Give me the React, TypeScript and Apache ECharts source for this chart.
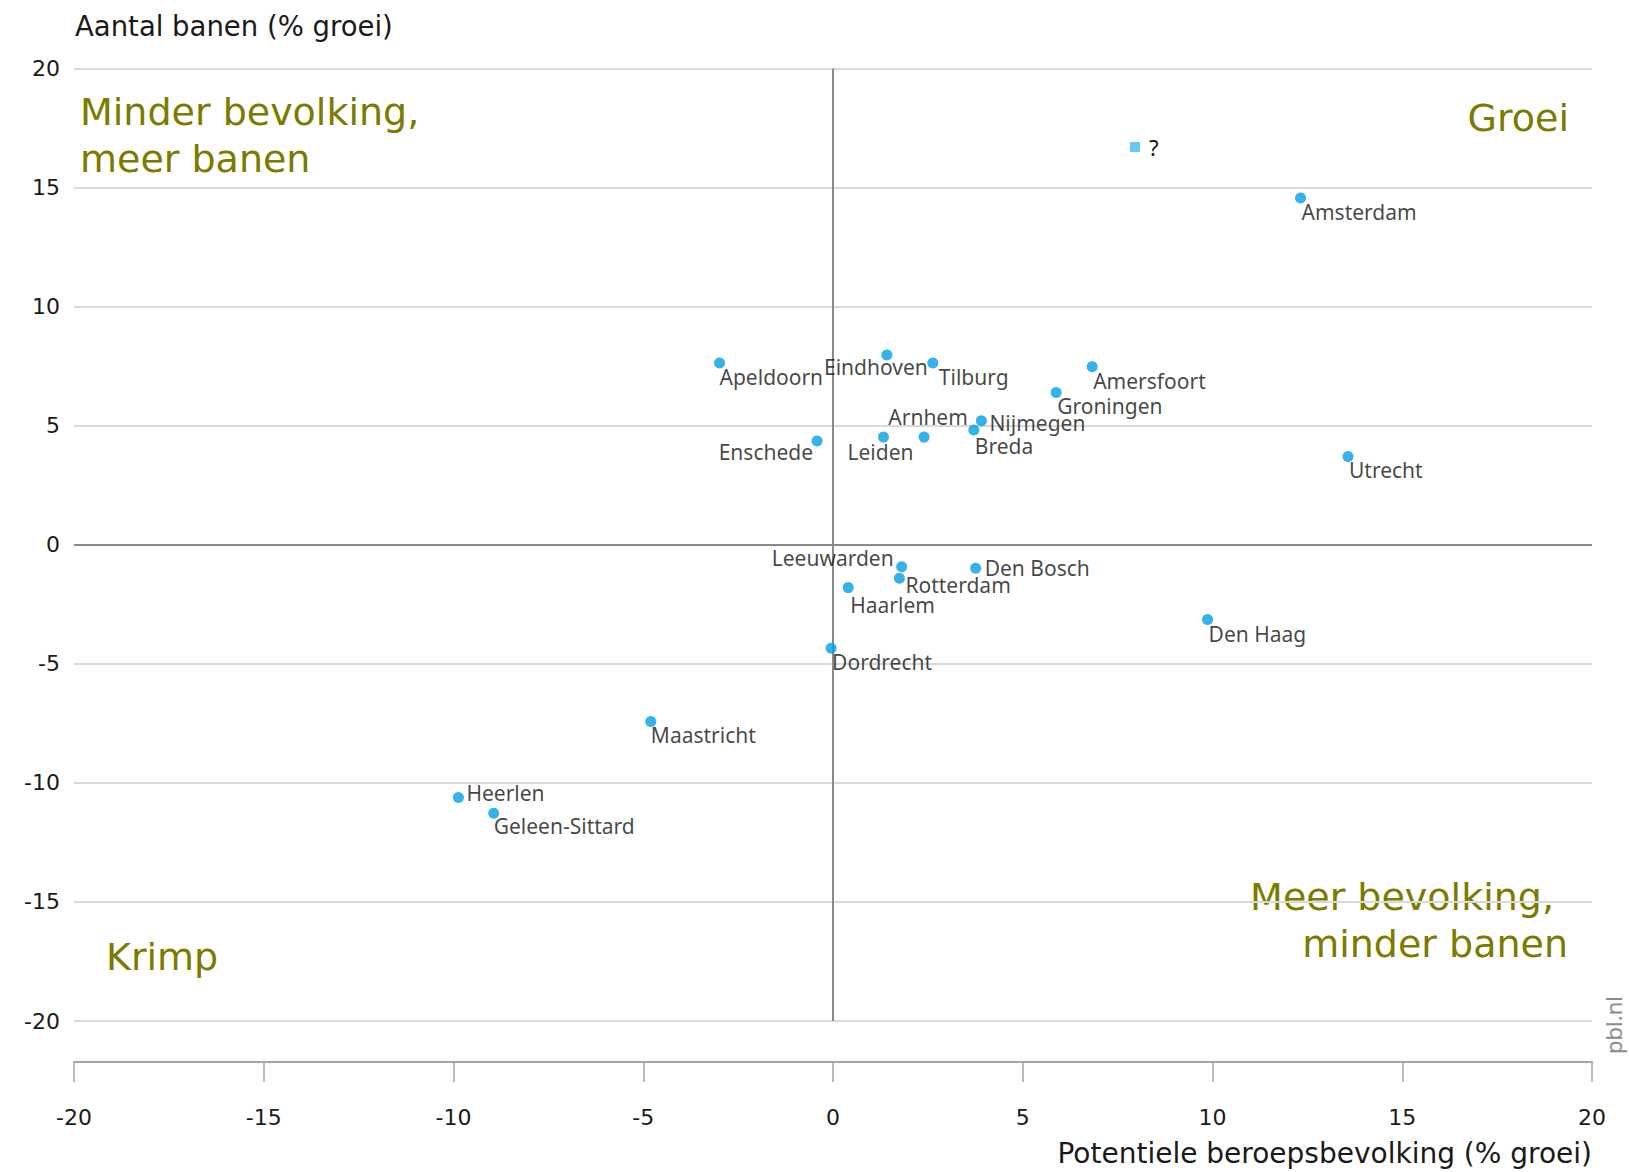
import React, { useEffect, useRef } from "react";
import * as echarts from "echarts";

// ---- data ----
const cities = [
  "Amsterdam", "Utrecht", "Den Haag", "Amersfoort", "Groningen", "Tilburg",
  "Eindhoven", "Apeldoorn", "Nijmegen", "Breda", "Arnhem", "Leiden", "Enschede",
  "Leeuwarden", "Rotterdam", "Den Bosch", "Haarlem", "Dordrecht", "Maastricht",
  "Heerlen", "Geleen-Sittard",
];
// Potentiele beroepsbevolking (% groei)
const populationGrowth = [
  12.32, 13.57, 9.87, 6.83, 5.88, 2.63,
  1.42, -2.99, 3.91, 3.71, 2.40, 1.33, -0.42,
  1.81, 1.75, 3.76, 0.40, -0.05, -4.80,
  -9.87, -8.94,
];
// Aantal banen (% groei)
const jobsGrowth = [
  14.56, 3.71, -3.14, 7.48, 6.39, 7.63,
  7.97, 7.63, 5.21, 4.82, 4.52, 4.52, 4.36,
  -0.92, -1.41, -0.99, -1.80, -4.35, -7.42,
  -10.61, -11.28,
];
const unknownName = "?";
const axisTicks = [-20, -15, -10, -5, 0, 5, 10, 15, 20];

// label placement: [align, dx, dy] relative to the point centre (style, not data)
const labelPlacement: Record<string, [string, number, number]> = {
  Amsterdam: ["left", 1, 14],
  Utrecht: ["left", 1, 14],
  "Den Haag": ["left", 1, 14],
  Amersfoort: ["left", 1, 14],
  Groningen: ["left", 1, 13],
  Tilburg: ["left", 6, 14],
  Eindhoven: ["center", -11, 12],
  Apeldoorn: ["left", 0, 14],
  Nijmegen: ["left", 8, 2],
  Breda: ["left", 1, 16],
  Arnhem: ["center", 4, -20],
  Leiden: ["center", -3, 15],
  Enschede: ["right", -4, 11],
  Leeuwarden: ["right", -8, -9],
  Rotterdam: ["left", 6, 7],
  "Den Bosch": ["left", 9, 0],
  Haarlem: ["left", 2, 17],
  Dordrecht: ["left", 1, 14],
  Maastricht: ["left", 0, 14],
  Heerlen: ["left", 8, -4],
  "Geleen-Sittard": ["left", 0, 13],
};

const W = 1629;
const H = 1172;
const GRID_LEFT = 74;
const GRID_RIGHT = 1592;
const GRID_TOP = 68.5;
const GRID_BOTTOM = 1021;

const OLIVE = "#7b7b00";
const BLUE = "#00a0e4";
const LABEL_FONT = "'Noto Sans', sans-serif";
const TICK_FONT = "'DejaVu Sans', sans-serif";
const QUAD_FONT = "'DejaVu Sans', sans-serif";

export default function App() {
  const ref = useRef<HTMLDivElement>(null);

  useEffect(() => {
    document.body.style.margin = "0";
    if (!ref.current) return;
    const chart = echarts.init(ref.current, undefined, { renderer: "svg" });

    const points = cities.map((name, i) => {
      const p = labelPlacement[name] || ["left", 0, 14];
      return {
        name,
        value: [populationGrowth[i], jobsGrowth[i]],
        label: {
          show: true,
          position: "inside",
          formatter: name,
          align: p[0],
          verticalAlign: "middle",
          offset: [p[1], p[2]],
          color: "#141414",
          fontSize: 21,
          fontFamily: LABEL_FONT,
        },
      };
    });

    const quadText = (text: string, x: number, y: number, align: string) => ({
      type: "text",
      x,
      y,
      silent: true,
      style: {
        text,
        fill: OLIVE,
        font: `38px ${QUAD_FONT}`,
        align,
        verticalAlign: "middle",
      },
    });

    chart.setOption({
      animation: false,
      backgroundColor: "#ffffff",
      grid: {
        left: GRID_LEFT,
        right: W - GRID_RIGHT,
        top: GRID_TOP,
        bottom: H - GRID_BOTTOM,
        containLabel: false,
      },
      legend: {
        data: [{ name: unknownName, icon: "rect" }],
        left: 1130,
        top: 136,
        padding: 0,
        itemWidth: 10,
        itemHeight: 10,
        selectedMode: false,
        textStyle: {
          fontSize: 22,
          color: "#111111",
          fontFamily: LABEL_FONT,
          padding: [0, 0, 0, 4],
        },
      },
      xAxis: {
        type: "value",
        min: axisTicks[0],
        max: axisTicks[axisTicks.length - 1],
        interval: 5,
        position: "bottom",
        offset: 41,
        axisLine: { show: true, onZero: false, lineStyle: { color: "#a6a6a6", width: 2 } },
        axisTick: { show: true, length: 20, lineStyle: { color: "#a6a6a6", width: 1.5 } },
        axisLabel: {
          margin: 44,
          fontSize: 22,
          fontFamily: TICK_FONT,
          color: "#1a1a1a",
        },
        splitLine: { show: false },
      },
      yAxis: {
        type: "value",
        min: axisTicks[0],
        max: axisTicks[axisTicks.length - 1],
        interval: 5,
        axisLine: { show: false },
        axisTick: { show: false },
        axisLabel: {
          margin: 14,
          fontSize: 22,
          fontFamily: TICK_FONT,
          color: "#1a1a1a",
        },
        splitLine: { show: true, lineStyle: { color: "#d9d9d9", width: 2 } },
      },
      series: [
        {
          type: "scatter",
          name: "steden",
          symbol: "circle",
          symbolSize: 11,
          itemStyle: { color: BLUE },
          silent: true,
          data: points,
          markLine: {
            silent: true,
            symbol: ["none", "none"],
            label: { show: false },
            lineStyle: { color: "#8a8a8a", width: 2, type: "solid" },
            data: [{ yAxis: 0 }, { xAxis: 0 }],
            z: 1,
          },
          z: 3,
        },
        {
          type: "scatter",
          name: unknownName,
          symbol: "rect",
          itemStyle: { color: "#46b6f5" },
          data: [],
        },
      ],
      graphic: [
        {
          type: "text",
          x: 75,
          y: 26,
          silent: true,
          style: {
            text: "Aantal banen (% groei)",
            fill: "#1a1a1a",
            font: `27.5px ${TICK_FONT}`,
            align: "left",
            verticalAlign: "middle",
          },
        },
        {
          type: "text",
          x: 1592,
          y: 1153,
          silent: true,
          style: {
            text: "Potentiele beroepsbevolking (% groei)",
            fill: "#1a1a1a",
            font: `28px ${TICK_FONT}`,
            align: "right",
            verticalAlign: "middle",
          },
        },
        {
          type: "text",
          x: 1613,
          y: 1025,
          rotation: Math.PI / 2,
          silent: true,
          style: {
            text: "pbl.nl",
            fill: "#8c8c8c",
            font: `22px ${LABEL_FONT}`,
            align: "center",
            verticalAlign: "middle",
          },
        },
        {
          type: "text",
          x: 80,
          y: 111,
          silent: true,
          style: {
            text: "Minder bevolking,\nmeer banen",
            fill: OLIVE,
            font: `38px ${QUAD_FONT}`,
            lineHeight: 47,
            align: "left",
            verticalAlign: "top",
            y: -23,
          },
        },
        quadText("Groei", 1569, 118, "right"),
        quadText("Meer bevolking,", 1554, 897, "right"),
        quadText("minder banen", 1568, 944, "right"),
        quadText("Krimp", 106, 957, "left"),
      ],
    });

    return () => chart.dispose();
  }, []);

  return <div ref={ref} style={{ width: W, height: H }} />;
}
